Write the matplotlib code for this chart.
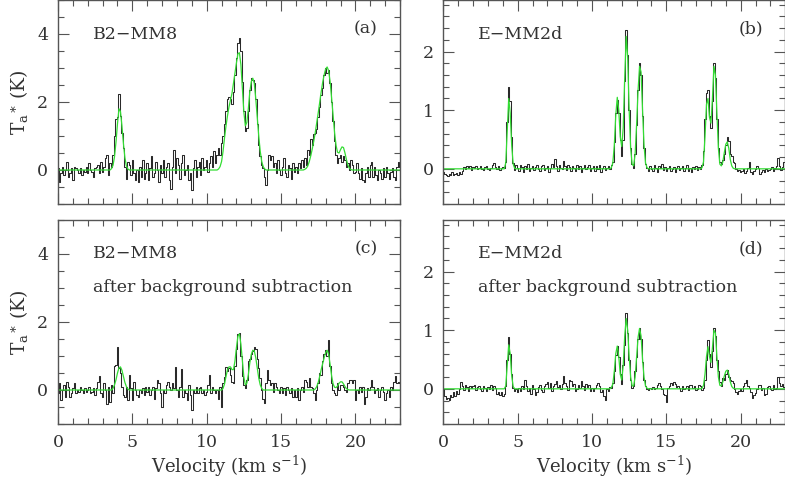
import numpy as np
import matplotlib.pyplot as plt
from matplotlib.ticker import MultipleLocator

# channel width of the spectra (km/s), first channel at 0 km/s
dv = 0.1

# B2-MM8, raw spectrum (K)
b2_raw = [
    0.05, -0.35, -0.1, 0.1, -0.15, 0.0, 0.25, -0.2, -0.1, 0.05,
    -0.3, 0.1, 0.05, 0.0, -0.1, 0.05, -0.15, 0.0, -0.05, 0.1,
    -0.1, 0.2, 0.0, -0.05, -0.2, 0.05, 0.1, 0.15, -0.1, 0.25,
    -0.05, 0.1, 0.35, 0.45, -0.15, 0.2, 0.1, 0.45, 1.0, 1.5,
    1.55, 2.25, 1.6, 1.1, 0.65, 0.1, -0.25, 0.25, 0.15, -0.15,
    0.3, -0.1, -0.3, 0.0, -0.35, 0.1, -0.2, 0.3, -0.25, -0.1,
    0.2, -0.3, 0.05, 0.4, -0.2, -0.1, 0.25, 0.0, -0.35, 0.15,
    -0.1, 0.3, -0.2, 0.1, 0.2, -0.3, -0.55, 0.1, 0.6, -0.1,
    0.35, 0.15, -0.25, 0.2, 0.45, -0.15, 0.0, 0.15, -0.3, -0.1,
    -0.6, 0.05, 0.3, -0.2, 0.1, 0.25, -0.15, 0.35, 0.0, 0.1,
    0.3, -0.05, 0.2, 0.4, 0.1, 0.55, 0.2, 0.45, 0.65, 0.45,
    0.8, 1.0, 1.35, 1.75, 2.1, 2.15, 2.1, 1.95, 2.3, 2.8,
    3.3, 3.75, 3.88, 3.5, 2.6, 1.75, 1.15, 1.25, 1.75, 2.35,
    2.7, 2.65, 2.55, 2.1, 1.35, 0.75, 0.4, 0.15, 0.05, -0.2,
    -0.45, 0.0, 0.45, 0.3, 0.4, 0.1, 0.2, -0.1, 0.3, 0.0,
    -0.15, 0.1, 0.35, -0.1, -0.2, 0.15, 0.05, -0.25, 0.2, -0.05,
    0.1, -0.1, 0.2, 0.05, 0.3, 0.1, 0.35, 0.15, 0.6, 0.45,
    0.9, 0.75, 1.05, 1.1, 1.2, 1.55, 1.85, 2.2, 2.4, 2.8,
    3.0, 2.85, 2.95, 2.55, 2.0, 1.45, 0.85, 0.45, 0.2, 0.35,
    0.45, 0.25, 0.4, 0.3, 0.1, 0.2, 0.0, 0.3, 0.15, -0.1,
    -0.05, 0.2, -0.1, -0.25, 0.05, -0.3, -0.35, -0.1, 0.1, -0.2,
    0.15, 0.25, -0.2, 0.1, -0.15, -0.3, 0.0, -0.1, -0.25, 0.05,
    -0.2, 0.1, -0.1, -0.25, -0.05, 0.05, -0.2, -0.3, 0.1, 0.25,
    0.1,
]

# E-MM2d, raw spectrum (K)
emm_raw = [
    -0.05, -0.08, -0.1, -0.12, -0.08, -0.1, -0.06, -0.11, -0.09, -0.07,
    -0.1, -0.06, -0.08, -0.04, 0.03, 0.0, 0.05, 0.02, 0.04, -0.02,
    0.03, 0.01, 0.05, 0.0, 0.02, 0.04, 0.0, -0.02, 0.03, 0.05,
    0.0, -0.02, 0.02, 0.06, 0.1, 0.03, 0.0, 0.04, -0.02, 0.01,
    0.03, 0.02, 0.12, 0.8, 1.4, 1.15, 0.55, 0.1, -0.02, 0.06,
    0.02, -0.04, 0.07, 0.03, -0.05, 0.04, 0.0, 0.08, -0.03, 0.02,
    0.05, -0.02, 0.03, 0.07, 0.0, -0.04, 0.04, 0.06, -0.02, 0.01,
    0.04, -0.05, 0.02, 0.08, 0.03, 0.16, 0.05, -0.03, 0.06, 0.02,
    0.0, 0.13, 0.05, -0.02, 0.07, 0.03, -0.04, 0.05, 0.02, -0.03,
    0.06, 0.0, 0.04, -0.05, 0.02, 0.07, -0.01, 0.03, 0.06, -0.04,
    0.02, 0.05, -0.03, 0.04, 0.0, 0.06, -0.06, 0.02, 0.05, -0.02,
    0.01, 0.04, 0.0, 0.06, 0.12, 0.45, 0.95, 1.18, 0.95, 0.5,
    0.22, 0.5, 1.5, 2.37, 1.95, 1.0, 0.35, 0.08, 0.02, 0.25,
    0.75, 1.35, 1.8, 1.6, 0.9, 0.35, 0.08, 0.02, -0.04, 0.05,
    0.0, -0.03, 0.06, 0.02, -0.05, 0.04, 0.01, 0.08, -0.02, 0.03,
    -0.04, 0.02, 0.05, -0.03, 0.0, 0.03, -0.06, 0.01, 0.04, -0.02,
    0.02, 0.05, -0.04, 0.01, 0.06, -0.03, 0.02, -0.05, 0.03, 0.0,
    0.04, -0.02, 0.03, 0.0, 0.06, 0.3, 0.85, 1.3, 1.35, 0.9,
    0.7, 1.15, 1.8, 1.55, 0.85, 0.35, 0.12, 0.08, 0.15, 0.25,
    0.4, 0.55, 0.48, 0.25, 0.22, 0.12, 0.1, 0.0, -0.04, -0.02,
    -0.06, -0.03, 0.0, -0.07, -0.04, 0.02, 0.12, -0.05, -0.09, -0.03,
    0.0, 0.05, 0.02, -0.08, -0.05, -0.02, -0.06, 0.0, -0.03, -0.02,
    0.0, 0.03, -0.04, 0.02, 0.05, 0.18, 0.05, -0.02, 0.03, 0.12,
    0.1,
]

# B2-MM8 after background subtraction (K)
b2_sub = [
    -0.1, 0.2, -0.3, 0.0, 0.15, -0.2, 0.25, 0.1, -0.2, -0.1,
    0.05, 0.2, -0.1, 0.0, -0.05, 0.1, 0.0, -0.1, 0.05, -0.05,
    0.0, 0.1, -0.1, -0.05, 0.05, -0.15, 0.05, 0.25, 0.4, -0.1,
    -0.2, 0.2, 0.0, -0.4, 0.1, -0.35, 0.15, -0.1, 0.7, 0.75,
    1.27, 0.65, 0.5, 0.1, -0.15, -0.2, 0.1, -0.3, 0.45, 0.05,
    -0.3, 0.25, 0.0, -0.15, -0.2, 0.0, -0.1, 0.05, -0.15, 0.1,
    -0.05, 0.1, -0.15, 0.0, 0.1, -0.25, 0.05, 0.3, 0.2, -0.1,
    -0.5, 0.0, -0.1, 0.15, 0.25, 0.1, 0.0, 0.2, 0.05, 0.68,
    0.0, -0.2, 0.1, 0.63, -0.2, 0.0, -0.1, -0.3, 0.15, -0.15,
    -0.58, 0.0, -0.1, 0.1, -0.1, 0.05, 0.1, -0.1, 0.0, -0.15,
    -0.05, 0.15, 0.44, -0.1, 0.1, 0.0, -0.1, 0.0, -0.25, 0.1,
    -0.5, 0.2, 0.39, 0.68, 0.55, 0.65, 0.45, 0.25, 0.2, 0.7,
    1.2, 1.65, 1.68, 1.0, 0.4, 0.15, 0.05, 0.3, 0.85, 0.9,
    1.05, 1.15, 1.27, 1.2, 0.9, 0.65, 0.35, 0.0, -0.25, -0.39,
    0.2, 0.58, 0.3, 0.15, 0.2, -0.05, 0.2, 0.1, 0.0, -0.1,
    0.1, -0.1, 0.05, -0.15, 0.1, 0.0, -0.1, 0.05, -0.2, 0.0,
    -0.2, 0.05, -0.3, 0.0, 0.1, -0.05, 0.3, 0.25, 0.1, 0.35,
    0.1, 0.05, -0.1, -0.3, 0.0, 0.2, 0.5, 0.45, 0.85, 1.07,
    1.17, 1.0, 1.46, 0.7, 0.2, 0.0, -0.1, -0.15, 0.2, 0.0,
    0.15, 0.15, 0.1, 0.0, -0.05, 0.2, 0.3, 0.3, 0.2, 0.3,
    -0.3, 0.0, -0.1, 0.1, -0.05, 0.1, -0.4, -0.2, 0.05, 0.0,
    0.1, 0.3, 0.1, -0.1, 0.0, 0.05, -0.2, 0.0, 0.1, -0.05,
    -0.3, -0.1, 0.0, -0.2, 0.1, 0.0, 0.25, 0.4, 0.2, 0.25,
    0.2,
]

# E-MM2d after background subtraction (K)
emm_sub = [
    0.0, -0.12, -0.17, -0.15, -0.19, -0.1, -0.14, -0.06, -0.12, -0.04,
    -0.08, 0.0, 0.12, 0.04, -0.02, 0.06, 0.03, -0.03, 0.05, 0.01,
    0.04, 0.06, -0.02, 0.03, 0.05, 0.0, -0.04, 0.04, 0.02, -0.03,
    0.03, 0.0, 0.07, -0.02, 0.04, 0.01, -0.08, -0.05, -0.1, -0.06,
    -0.12, -0.08, 0.05, 0.5, 0.88, 0.6, 0.25, 0.02, -0.04, 0.0,
    -0.05, 0.01, -0.03, 0.04, 0.0, 0.15, 0.05, -0.03, 0.02, -0.08,
    0.07, 0.0, -0.1, -0.05, 0.03, 0.06, -0.02, -0.06, 0.04, 0.08,
    0.12, 0.02, 0.1, -0.04, 0.05, 0.09, 0.14, 0.03, 0.06, 0.0,
    0.08, 0.22, 0.1, 0.05, -0.02, 0.15, 0.14, 0.04, 0.08, -0.03,
    0.0, 0.06, 0.02, 0.14, 0.05, -0.02, 0.09, 0.03, 0.07, -0.04,
    0.02, -0.03, 0.01, 0.07, 0.1, 0.04, -0.05, -0.02, -0.12, -0.19,
    0.0, -0.04, 0.03, 0.02, 0.1, 0.3, 0.58, 0.73, 0.55, 0.25,
    0.08, 0.4, 0.75, 1.29, 0.95, 0.5, 0.15, 0.02, 0.05, 0.3,
    0.55, 0.85, 1.03, 0.85, 0.45, 0.15, 0.05, 0.0, -0.02, 0.01,
    0.0, 0.03, -0.01, 0.02, 0.06, 0.1, 0.05, 0.0, -0.08, -0.1,
    -0.22, 0.02, 0.05, 0.1, 0.06, 0.12, 0.08, 0.03, 0.04, 0.02,
    -0.03, 0.05, 0.0, 0.02, 0.04, -0.02, 0.07, 0.06, 0.02, 0.05,
    -0.02, 0.0, 0.07, 0.04, -0.02, 0.02, 0.15, 0.5, 0.83, 0.6,
    0.38, 0.65, 1.03, 0.9, 0.5, 0.3, 0.12, 0.05, 0.18, 0.15,
    0.25, 0.32, 0.2, 0.15, 0.14, 0.1, 0.0, -0.06, -0.08, -0.03,
    0.0, -0.04, 0.05, 0.1, 0.15, 0.05, 0.01, -0.06, -0.16, -0.1,
    -0.07, 0.0, 0.06, 0.07, -0.02, 0.01, -0.1, -0.09, 0.03, 0.04,
    0.0, -0.02, 0.06, 0.0, 0.02, 0.21, 0.1, 0.04, 0.08, 0.03,
    0.05,
]

# hyperfine fits (green), non-zero parts only: start velocity -> values
fit_b2_raw = {
    3.6: [0.04, 0.14, 0.39, 0.82, 1.36, 1.8, 1.72, 1.3, 0.78, 0.36, 0.12, 0.03, 0.0],
    10.8: [0.03, 0.1, 0.25, 0.55, 0.95, 1.3, 1.6, 1.86, 2.05, 2.25, 2.55, 2.85,
           3.15, 3.42, 3.45, 3.1, 2.4, 1.7, 1.3, 1.4, 1.8, 2.3, 2.6, 2.7, 2.55,
           2.1, 1.55, 1.0, 0.55, 0.25, 0.1, 0.03, 0.0],
    16.5: [0.0, 0.02, 0.05, 0.12, 0.25, 0.42, 0.62, 0.85, 1.1, 1.38, 1.68, 2.0,
           2.3, 2.58, 2.8, 2.97, 3.03, 2.92, 2.6, 2.12, 1.6, 1.1, 0.72, 0.52,
           0.5, 0.6, 0.68, 0.66, 0.5, 0.3, 0.14, 0.05, 0.01, 0.0],
}
fit_emm_raw = {
    4.1: [0.0, 0.1, 0.65, 1.2, 0.95, 0.4, 0.08, 0.01, 0.0],
    11.2: [0.0, 0.02, 0.1, 0.4, 0.92, 1.22, 1.0, 0.55, 0.38, 0.7, 1.55, 2.26,
           1.9, 1.0, 0.35, 0.08, 0.05, 0.25, 0.75, 1.35, 1.75, 1.65, 1.0, 0.4,
           0.1, 0.02, 0.0],
    17.3: [0.0, 0.02, 0.12, 0.55, 1.1, 1.2, 0.88, 0.78, 1.2, 1.75, 1.6, 0.95,
           0.35, 0.08, 0.05, 0.12, 0.28, 0.42, 0.46, 0.35, 0.16, 0.05, 0.01, 0.0],
}
fit_b2_sub = {
    3.6: [0.0, 0.05, 0.15, 0.3, 0.5, 0.65, 0.68, 0.58, 0.4, 0.22, 0.1, 0.03, 0.0],
    11.0: [0.0, 0.05, 0.18, 0.4, 0.6, 0.68, 0.68, 0.6, 0.6, 0.85, 1.25, 1.58,
           1.65, 1.35, 0.85, 0.38, 0.15, 0.2, 0.45, 0.8, 1.05, 1.17, 1.15, 0.95,
           0.65, 0.35, 0.15, 0.05, 0.0],
    17.2: [0.0, 0.03, 0.1, 0.22, 0.4, 0.6, 0.78, 0.95, 1.1, 1.17, 1.05, 0.75,
           0.42, 0.18, 0.08, 0.07, 0.12, 0.2, 0.24, 0.24, 0.18, 0.1, 0.04, 0.01, 0.0],
}
fit_emm_sub = {
    4.1: [0.0, 0.05, 0.4, 0.75, 0.6, 0.22, 0.04, 0.0],
    11.2: [0.0, 0.02, 0.08, 0.3, 0.6, 0.73, 0.55, 0.25, 0.15, 0.4, 0.9, 1.2,
           1.0, 0.55, 0.2, 0.05, 0.05, 0.2, 0.55, 0.88, 1.03, 0.9, 0.5, 0.2,
           0.05, 0.01, 0.0],
    17.3: [0.0, 0.01, 0.06, 0.25, 0.55, 0.72, 0.55, 0.45, 0.7, 1.0, 0.95, 0.55,
           0.2, 0.06, 0.05, 0.12, 0.22, 0.3, 0.32, 0.25, 0.12, 0.04, 0.01, 0.0],
}

names = ['B2\u2212MM8', 'E\u2212MM2d', 'B2\u2212MM8', 'E\u2212MM2d']
tags = ['(a)', '(b)', '(c)', '(d)']
spectra = [b2_raw, emm_raw, b2_sub, emm_sub]
fits = [fit_b2_raw, fit_emm_raw, fit_b2_sub, fit_emm_sub]


def fit_curve(parts, n):
    y = np.zeros(n)
    for start, vals in parts.items():
        i0 = int(round(start / dv))
        y[i0:i0 + len(vals)] = vals
    return y


plt.rcParams['font.family'] = 'DejaVu Serif'
plt.rcParams['mathtext.fontset'] = 'dejavuserif'
frame = '#555555'
txt = '#333333'
fs = 12.5

fig = plt.figure(figsize=(7.85, 4.82), dpi=100)
w, h = 342 / 785, 204 / 482
boxes = [(58 / 785, 1 - 204 / 482), (443.3 / 785, 1 - 204 / 482),
         (58 / 785, 1 - 424 / 482), (443.3 / 785, 1 - 424 / 482)]

for k in range(4):
    ax = fig.add_axes([boxes[k][0], boxes[k][1], w, h])
    spec = np.array(spectra[k])
    vel = np.arange(len(spec)) * dv
    ax.plot(vel, spec, drawstyle='steps-mid', color='#2a2a2a', lw=0.75)
    ax.plot(vel, fit_curve(fits[k], len(spec)), color='#33dd33', lw=0.9)

    ax.set_xlim(0, 23)
    ax.xaxis.set_major_locator(MultipleLocator(5))
    ax.xaxis.set_minor_locator(MultipleLocator(1))
    if k % 2 == 0:
        ax.set_ylim(-1, 5)
        ax.yaxis.set_major_locator(MultipleLocator(2))
        ax.yaxis.set_minor_locator(MultipleLocator(0.5))
        ax.set_ylabel(r'T$_{\rm a}$$^{\ast}$ (K)', fontsize=13.5, color=txt, labelpad=5)
    else:
        ax.set_ylim(-0.6, 2.88)
        ax.yaxis.set_major_locator(MultipleLocator(1))
        ax.yaxis.set_minor_locator(MultipleLocator(0.2))

    ax.tick_params(which='both', direction='in', top=True, right=True,
                   color=frame, labelcolor=txt, labelsize=fs, width=0.8)
    ax.tick_params(which='major', length=8)
    ax.tick_params(which='minor', length=4)
    ax.tick_params(axis='y', pad=7)
    ax.tick_params(axis='x', pad=7)
    for s in ax.spines.values():
        s.set_color(frame)
        s.set_linewidth(1.0)

    if k < 2:
        ax.tick_params(labelbottom=False)
    else:
        ax.set_xlabel(r'Velocity (km s$^{-1}$)', fontsize=13, color=txt, labelpad=2)
        ax.text(0.102, 0.67, 'after background subtraction', transform=ax.transAxes,
                fontsize=fs, color=txt, va='center')

    ax.text(0.102, 0.83 if k < 2 else 0.838, names[k], transform=ax.transAxes,
            fontsize=fs, color=txt, va='center')
    ax.text(0.935, 0.86, tags[k], transform=ax.transAxes, fontsize=fs,
            color=txt, va='center', ha='right')

plt.savefig('out.png', dpi=100)
